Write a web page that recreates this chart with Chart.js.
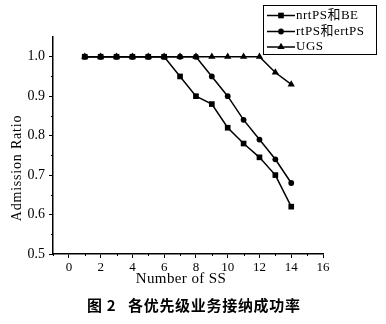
<!DOCTYPE html>
<html><head><meta charset="utf-8">
<script src="https://cdn.jsdelivr.net/npm/chart.js@4/dist/chart.umd.min.js"></script>
<style>html,body{margin:0;padding:0;background:#fff;}#wrap{width:386px;height:324px;}</style>
</head><body><div id="wrap"><canvas id="c" width="386" height="324"></canvas></div>
<script>
const numberOfSS = [1,2,3,4,5,6,7,8,9,10,11,12,13,14];
const nrtPSandBE = [1.0,1.0,1.0,1.0,1.0,1.0,0.95,0.90,0.88,0.82,0.78,0.745,0.70,0.62];
const rtPSandErtPS = [1.0,1.0,1.0,1.0,1.0,1.0,1.0,1.0,0.95,0.90,0.84,0.79,0.74,0.68];
const ugs = [1.0,1.0,1.0,1.0,1.0,1.0,1.0,1.0,1.0,1.0,1.0,1.0,0.96,0.93];
const seriesNames = ['nrtPS和BE','rtPS和ertPS','UGS'];
const xTickValues = [0,2,4,6,8,10,12,14,16];
const yTickValues = [0.5,0.6,0.7,0.8,0.9,1.0];
const xMinorTicks = [-1,1,3,5,7,9,11,13,15];
const yMinorTicks = [0.55,0.65,0.75,0.85,0.95];
const xTitle = 'Number of SS';
const yTitle = 'Admission Ratio';
const captionLabel = '图 2';
const captionText = '各优先级业务接纳成功率';

const SERIF = '"Liberation Serif", "Noto Sans CJK SC", serif';
const pts = (ys) => numberOfSS.map((x, i) => ({x, y: ys[i]}));
const styles = [
  {pointStyle:'rect', pointRadius:4},
  {pointStyle:'circle', pointRadius:2.9},
  {pointStyle:'triangle', pointRadius:4.2}
];
const seriesData = [nrtPSandBE, rtPSandErtPS, ugs];

function drawMarker(ctx, style, x, y, r) {
  ctx.beginPath();
  if (style === 'rect') {
    const s = Math.SQRT1_2 * r;
    ctx.rect(x - s, y - s, 2 * s, 2 * s);
  } else if (style === 'circle') {
    ctx.arc(x, y, r, 0, Math.PI * 2);
  } else {
    ctx.moveTo(x, y - r);
    ctx.lineTo(x + r * 0.866, y + r * 0.5);
    ctx.lineTo(x - r * 0.866, y + r * 0.5);
    ctx.closePath();
  }
  ctx.fill();
}

const extras = {
  id: 'extras',
  afterDraw(chart) {
    const ctx = chart.ctx;
    const xs = chart.scales.x, ys = chart.scales.y;
    const area = chart.chartArea;
    ctx.save();
    ctx.strokeStyle = '#000';
    ctx.lineWidth = 1;
    ctx.beginPath();
    yMinorTicks.forEach(v => {
      const py = Math.round(ys.getPixelForValue(v)) + 0.5;
      ctx.moveTo(area.left - 2, py); ctx.lineTo(area.left, py);
    });
    xMinorTicks.forEach(v => {
      const px = Math.round(xs.getPixelForValue(v)) + 0.5;
      ctx.moveTo(px, area.bottom); ctx.lineTo(px, area.bottom + 2);
    });
    ctx.stroke();

    ctx.fillStyle = '#000';
    if ('letterSpacing' in ctx) ctx.letterSpacing = '0.8px';
    ctx.save();
    ctx.font = '14px ' + SERIF;
    ctx.translate(17, 168);
    ctx.rotate(-Math.PI / 2);
    ctx.textAlign = 'center'; ctx.textBaseline = 'middle';
    ctx.fillText(yTitle, 0, 0);
    ctx.restore();
    if ('letterSpacing' in ctx) ctx.letterSpacing = '0.4px';
    ctx.font = '15px ' + SERIF;
    ctx.textAlign = 'center'; ctx.textBaseline = 'middle';
    ctx.fillText(xTitle, 181, 279);

    if ('letterSpacing' in ctx) ctx.letterSpacing = '0.7px';
    ctx.font = 'bold 15px "Noto Sans CJK SC", sans-serif';
    ctx.textAlign = 'left';
    ctx.fillText(captionLabel, 87, 305);
    ctx.fillText(captionText, 128, 305);

    if ('letterSpacing' in ctx) ctx.letterSpacing = '0.5px';
    ctx.fillStyle = '#fff';
    ctx.fillRect(263.5, 5.5, 113, 49);
    ctx.strokeStyle = '#000';
    ctx.lineWidth = 1;
    ctx.strokeRect(263.5, 5.5, 113, 49);
    const rows = [15.5, 31.5, 47];
    ctx.font = '13px ' + SERIF;
    ctx.textBaseline = 'middle';
    seriesNames.forEach((name, i) => {
      const y = rows[i];
      ctx.strokeStyle = '#000'; ctx.lineWidth = 1.5;
      ctx.beginPath(); ctx.moveTo(267, y); ctx.lineTo(295, y); ctx.stroke();
      ctx.fillStyle = '#000';
      drawMarker(ctx, styles[i].pointStyle, 281, y, styles[i].pointRadius);
      ctx.fillText(name, 296, y);
    });
    ctx.restore();
  }
};

new Chart(document.getElementById('c'), {
  type: 'line',
  data: {
    datasets: seriesNames.map((name, i) => ({
      label: name,
      data: pts(seriesData[i]),
      borderColor: '#000',
      backgroundColor: '#000',
      borderWidth: 1.5,
      pointStyle: styles[i].pointStyle,
      pointRadius: styles[i].pointRadius,
      pointBorderWidth: 0,
      pointBackgroundColor: '#000',
      tension: 0,
      fill: false
    }))
  },
  options: {
    responsive: false,
    animation: false,
    devicePixelRatio: 1,
    layout: {padding: {top: 37, right: 63, left: 0, bottom: 0}},
    plugins: {legend: {display: false}, tooltip: {enabled: false}, title: {display: false}},
    scales: {
      x: {
        type: 'linear', min: -1, max: 16,
        afterBuildTicks: s => { s.ticks = xTickValues.map(v => ({value: v})); },
        afterFit: s => { s.height = 70; },
        ticks: {font: {family: SERIF, size: 13}, color: '#000', padding: 2, maxRotation: 0, autoSkip: false, callback: v => String(v)},
        grid: {drawOnChartArea: false, tickLength: 4, color: '#000', tickWidth: 1},
        border: {color: '#000', width: 1.5}
      },
      y: {
        type: 'linear', min: 0.5, max: 1.05,
        afterBuildTicks: s => { s.ticks = yTickValues.map(v => ({value: v})); },
        afterFit: s => { s.width = 53; },
        ticks: {font: {family: SERIF, size: 14}, color: '#000', padding: 4, autoSkip: false, callback: v => Number(v).toFixed(1)},
        grid: {drawOnChartArea: false, tickLength: 4, color: '#000', tickWidth: 1},
        border: {color: '#000', width: 1.5}
      }
    }
  },
  plugins: [extras]
});
</script></body></html>
